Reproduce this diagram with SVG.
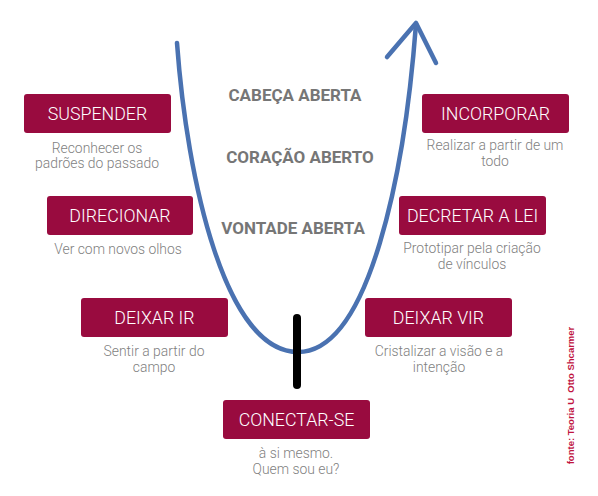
<svg xmlns="http://www.w3.org/2000/svg" width="598" height="496" viewBox="0 0 598 496">
<style>
.box{fill:#990b3f}
.bt{font-family:Roboto,"Liberation Sans",sans-serif;font-weight:300;font-size:17.8px;fill:#ffffff;text-anchor:middle}
.st{font-family:Roboto,"Liberation Sans",sans-serif;font-weight:300;font-size:13.9px;fill:#7f7f7f;text-anchor:middle}
.ht{font-family:Roboto,"Liberation Sans",sans-serif;font-weight:700;font-size:17px;fill:#767676;text-anchor:middle}
.curve{fill:none;stroke:#4a72b1;stroke-width:4.5;stroke-linecap:round;stroke-linejoin:round}
</style>
<rect width="598" height="496" fill="#ffffff"/>
<g id="connectors">
<path class="curve" d="M177,43 C187,180 225,352 298,352 C370,352 405,170 416,24"/>
<path class="curve" d="M387,57 L416,23 L436,63"/>
<line x1="297" y1="318" x2="297" y2="385" stroke="#000" stroke-width="8" stroke-linecap="round"/>
</g>
<g id="labels">
<text class="ht" x="295" y="101">CABEÇA ABERTA</text>
<text class="ht" x="300" y="163">CORAÇÃO ABERTO</text>
<text class="ht" x="293" y="234">VONTADE ABERTA</text>
</g>
<g id="suspender">
<rect class="box" x="24" y="94" width="147" height="39" rx="3"/>
<text class="bt" x="97.5" y="120">SUSPENDER</text>
<text class="st" x="97" y="153">Reconhecer os</text>
<text class="st" x="97" y="168">padrões do passado</text>
</g>
<g id="direcionar">
<rect class="box" x="47" y="196" width="146" height="39" rx="3"/>
<text class="bt" x="120" y="222">DIRECIONAR</text>
<text class="st" x="118" y="254">Ver com novos olhos</text>
</g>
<g id="deixar-ir">
<rect class="box" x="81" y="298" width="147" height="39" rx="3"/>
<text class="bt" x="154.5" y="324">DEIXAR IR</text>
<text class="st" x="154" y="356">Sentir a partir do</text>
<text class="st" x="154" y="372">campo</text>
</g>
<g id="conectar-se">
<rect class="box" x="223" y="400" width="147" height="39" rx="3"/>
<text class="bt" x="296.5" y="426">CONECTAR-SE</text>
<text class="st" x="296" y="458">à si mesmo.</text>
<text class="st" x="296" y="474">Quem sou eu?</text>
</g>
<g id="deixar-vir">
<rect class="box" x="365" y="298" width="147" height="39" rx="3"/>
<text class="bt" x="438.5" y="324">DEIXAR VIR</text>
<text class="st" x="439" y="356">Cristalizar a visão e a</text>
<text class="st" x="439" y="372">intenção</text>
</g>
<g id="decretar">
<rect class="box" x="399" y="196" width="147" height="39" rx="3"/>
<text class="bt" x="472.5" y="222">DECRETAR A LEI</text>
<text class="st" x="472" y="253">Prototipar pela criação</text>
<text class="st" x="472" y="269">de vínculos</text>
</g>
<g id="incorporar">
<rect class="box" x="422" y="94" width="147" height="39" rx="3"/>
<text class="bt" x="495.5" y="120">INCORPORAR</text>
<text class="st" x="495" y="150">Realizar a partir de um</text>
<text class="st" x="495" y="166">todo</text>
</g>
<g id="fonte">
<text transform="translate(574,395.5) rotate(-90)" text-anchor="middle" font-family="'Liberation Sans',Arial,sans-serif" font-weight="700" font-size="9.5" fill="#c0143f" style="white-space:pre">fonte: Teoria U  Otto Shcarmer</text>
</g>
</svg>
